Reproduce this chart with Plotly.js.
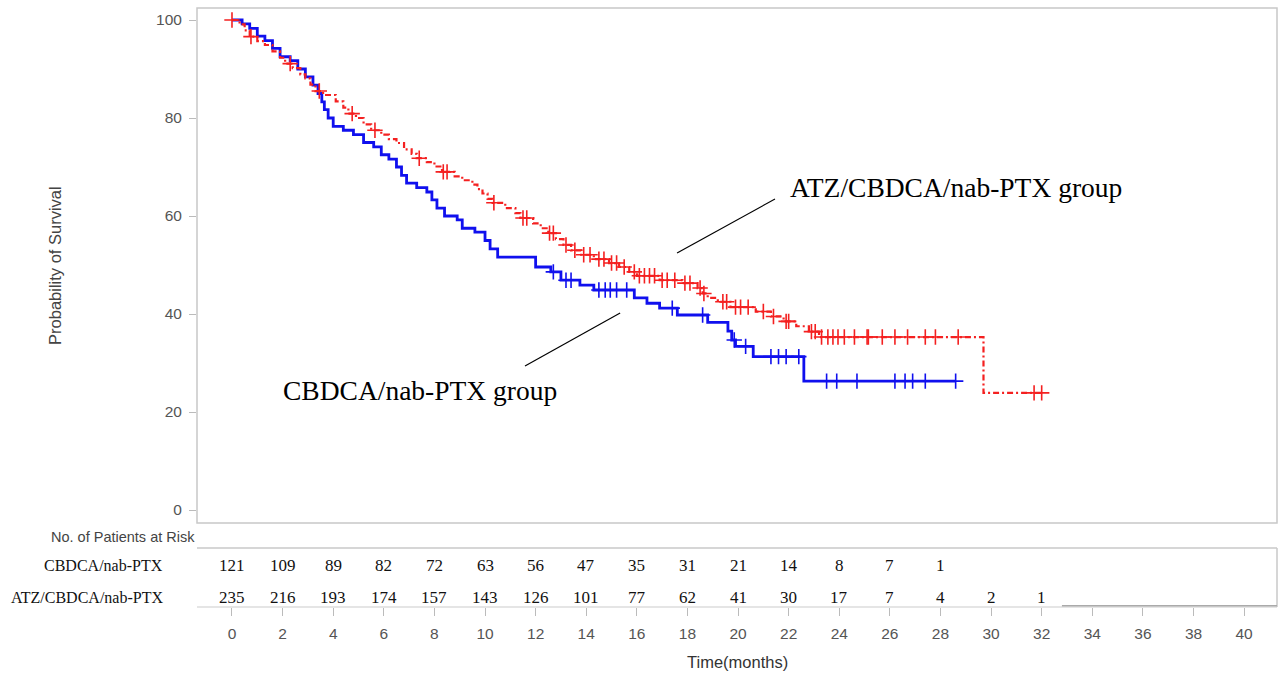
<!DOCTYPE html>
<html><head><meta charset="utf-8">
<script src="https://cdn.plot.ly/plotly-3.0.1.min.js"></script>
<style>html,body{margin:0;padding:0;background:#fff}#chart{width:1278px;height:675px}</style>
</head><body><div id="chart"></div>
<script>
// CBDCA/nab-PTX (blue) Kaplan-Meier steps
const blueTime = [0,0.4,0.7,1.0,1.3,1.6,1.9,2.3,2.6,2.9,3.2,3.4,3.55,3.65,3.8,4.0,4.4,4.8,5.2,5.6,5.9,6.2,6.5,6.7,6.9,7.3,7.7,7.9,8.1,8.4,8.9,9.1,9.6,10.0,10.2,10.5,12.0,12.6,13.0,13.75,14.3,15.9,16.4,16.9,17.6,18.8,19.6,19.75,19.9,20.6,22.6,28.6];
const blueSurv = [100,99.2,98.3,96.7,95.8,94.2,92.5,91.7,90.0,88.4,86.7,85.0,83.3,81.7,80.0,78.3,77.5,76.6,75.0,74.1,72.5,71.6,70.0,68.3,66.7,65.8,64.9,63.3,61.6,60.0,59.2,57.5,56.7,55.0,53.3,51.6,49.6,48.6,46.9,45.9,44.9,43.3,42.2,41.2,39.8,38.3,36.5,34.7,33.4,31.3,26.3,26.3];
const blueCensor = [12.7,13.2,13.4,14.5,14.75,14.95,15.2,15.6,17.4,18.6,19.85,20.3,21.3,21.6,21.9,22.4,23.5,23.9,24.7,26.2,26.6,26.9,27.4,28.6];

// ATZ/CBDCA/nab-PTX (red) Kaplan-Meier steps
const redTime = [0,0.3,0.5,0.7,1.0,1.3,1.6,1.9,2.1,2.4,2.7,2.9,3.1,3.3,3.6,4.1,4.4,4.6,4.9,5.2,5.5,5.9,6.2,6.5,6.8,7.1,7.3,7.7,8.0,8.3,8.8,9.1,9.5,9.7,9.9,10.1,10.3,10.8,11.2,11.4,11.9,12.2,12.5,12.8,13.1,13.4,13.8,14.3,14.9,15.3,15.7,16.0,16.9,17.8,18.4,18.6,18.8,19.2,19.7,20.7,21.3,21.8,22.3,22.8,23.2,29.7,32.05];
const redSurv = [100,99.1,97.9,96.6,95.7,94.9,93.6,92.3,91.1,90.2,88.9,88.1,86.8,85.5,84.7,83.4,82.1,80.9,80.0,78.7,77.5,76.6,75.7,74.9,73.6,72.7,71.8,71.0,70.1,69.0,68.1,67.3,66.4,65.5,64.6,63.5,62.7,61.6,60.6,59.6,58.5,57.5,56.5,55.3,54.1,53.0,52.1,51.2,50.4,49.6,48.6,47.8,46.9,46.3,45.3,44.2,43.3,42.5,41.4,40.5,39.5,38.5,37.5,36.4,35.3,23.9,23.9];
const redCensor = [0,0.75,2.3,3.45,4.75,5.65,7.4,8.35,8.5,10.35,11.5,11.65,12.55,12.7,13.2,13.55,13.9,14.15,14.5,14.7,15.0,15.2,15.5,15.9,16.1,16.3,16.5,16.7,17.0,17.2,17.5,17.9,18.1,18.5,18.65,19.4,19.55,19.9,20.1,20.4,21.0,21.4,21.9,22.0,22.9,23.05,23.3,23.55,23.75,23.95,24.2,24.6,25.1,25.15,25.7,26.2,26.7,27.4,27.8,28.7,31.7,32.0];

// Number at risk table
const riskTimesBlue = [0,2,4,6,8,10,12,14,16,18,20,22,24,26,28];
const riskBlue = [121,109,89,82,72,63,56,47,35,31,21,14,8,7,1];
const riskTimesRed = [0,2,4,6,8,10,12,14,16,18,20,22,24,26,28,30,32];
const riskRed = [235,216,193,174,157,143,126,101,77,62,41,30,17,7,4,2,1];
const rowLabels = ["CBDCA/nab-PTX","ATZ/CBDCA/nab-PTX"];
const xTickVals = [0,2,4,6,8,10,12,14,16,18,20,22,24,26,28,30,32,34,36,38,40];
const yTickVals = [0,20,40,60,80,100];

function survAt(times, surv, t){ let v = surv[0]; for (let i=0;i<times.length;i++){ if (times[i] <= t) v = surv[i]; } return v; }

const BLUE = '#1010ee', RED = '#f42020';
const sans = 'Liberation Sans, Arial, sans-serif';
const serif = 'Liberation Serif, Times New Roman, serif';

const traces = [
  {x: blueTime, y: blueSurv, type:'scatter', mode:'lines', line:{shape:'hv', color:BLUE, width:2.8}, xaxis:'x', yaxis:'y', hoverinfo:'skip'},
  {x: blueCensor, y: blueCensor.map(t=>survAt(blueTime, blueSurv, t)), type:'scatter', mode:'markers',
   marker:{symbol:'cross-thin', size:11, line:{color:BLUE, width:1.6}, color:BLUE}, xaxis:'x', yaxis:'y', hoverinfo:'skip'},
  {x: redTime, y: redSurv, type:'scatter', mode:'lines', line:{shape:'hv', color:RED, width:2.2, dash:'6px,3px,2px,3px'}, xaxis:'x', yaxis:'y', hoverinfo:'skip'},
  {x: redCensor, y: redCensor.map(t=>survAt(redTime, redSurv, t)), type:'scatter', mode:'markers',
   marker:{symbol:'cross-thin', size:11, line:{color:RED, width:1.6}, color:RED}, xaxis:'x', yaxis:'y', hoverinfo:'skip'}
];

const annotations = [];
riskTimesBlue.forEach((t,i)=>annotations.push({x:t, y:0.695, xref:'x', yref:'y2', text:String(riskBlue[i]), showarrow:false, font:{family:serif, size:17, color:'#111'}}));
riskTimesRed.forEach((t,i)=>annotations.push({x:t, y:0.153, xref:'x', yref:'y2', text:String(riskRed[i]), showarrow:false, font:{family:serif, size:17, color:'#111'}}));
annotations.push({x:-0.0296, y:0.695, xref:'paper', yref:'y2', xanchor:'right', text:rowLabels[0], showarrow:false, font:{family:serif, size:16, color:'#111'}});
annotations.push({x:-0.0296, y:0.153, xref:'paper', yref:'y2', xanchor:'right', text:rowLabels[1], showarrow:false, font:{family:serif, size:16, color:'#111'}});
annotations.push({x:-0.137, y:0.1169, xref:'paper', yref:'paper', xanchor:'left', yanchor:'middle', text:'No. of Patients at Risk', showarrow:false, font:{family:sans, size:14.5, color:'#444'}});
annotations.push({x:-0.1315, y:0.571, xref:'paper', yref:'paper', xanchor:'center', yanchor:'middle', textangle:-90, text:'Probability of Survival', showarrow:false, font:{family:sans, size:16.5, color:'#444'}});
annotations.push({x:28.6, y:65.9, xref:'x', yref:'y', text:'ATZ/CBDCA/nab-PTX group', showarrow:false, font:{family:serif, size:27.5, color:'#000'}});
annotations.push({x:7.43, y:24.3, xref:'x', yref:'y', text:'CBDCA/nab-PTX group', showarrow:false, font:{family:serif, size:27.5, color:'#000'}});
annotations.push({x:0.5, y:-0.0918, xref:'paper', yref:'paper', xanchor:'center', yanchor:'middle', text:'Time(months)', showarrow:false, font:{family:sans, size:16.5, color:'#333'}});

const boxColor = '#c8c8c8';
const shapes = [
  {type:'rect', xref:'x domain', yref:'y domain', x0:0, x1:1, y0:0, y1:1, line:{color:boxColor, width:1.5}},
  {type:'line', xref:'x domain', yref:'y2 domain', x0:0, x1:1, y0:1, y1:1, line:{color:boxColor, width:1.5}},
  {type:'line', xref:'x domain', yref:'y2 domain', x0:1, x1:1, y0:0, y1:1, line:{color:boxColor, width:1.5}},
  {type:'line', xref:'x domain', yref:'y2 domain', x0:0, x1:1, y0:0, y1:0, line:{color:'#dddddd', width:1.5}},
  {type:'line', xref:'x', yref:'y2 domain', x0:32.8, x1:41.3, y0:0.02, y1:0.02, line:{color:'#aaaaaa', width:1.5}},
  {type:'line', xref:'x', yref:'y', x0:17.59, y0:52.45, x1:21.46, y1:63.47, line:{color:'#000', width:1.2}},
  {type:'line', xref:'x', yref:'y', x0:11.58, y0:29.39, x1:15.34, y1:40.2, line:{color:'#000', width:1.2}}
];

const layout = {
  width:1278, height:675,
  margin:{l:197, r:1, t:8, b:68, pad:0},
  paper_bgcolor:'#fff', plot_bgcolor:'#fff',
  showlegend:false,
  xaxis:{range:[-1.383, 41.30], anchor:'y2', tickmode:'array', tickvals:xTickVals, ticktext:xTickVals.map(String),
    ticks:'outside', ticklen:8, tickcolor:'#bbbbbb', tickwidth:1, showgrid:false, zeroline:false, showline:false,
    ticklabelstandoff:4, tickfont:{family:sans, size:15.5, color:'#555'}},
  yaxis:{domain:[0.1402,1], range:[-2.65,102.45], tickmode:'array', tickvals:yTickVals, ticktext:yTickVals.map(String),
    ticks:'outside', ticklen:7, tickcolor:'#bbbbbb', showgrid:false, zeroline:false, showline:false,
    tickfont:{family:sans, size:15.5, color:'#555'}, ticklabelstandoff:4},
  yaxis2:{domain:[0,0.0985], range:[0,1], showticklabels:false, ticks:'', showgrid:false, zeroline:false, showline:false},
  annotations: annotations,
  shapes: shapes
};

Plotly.newPlot('chart', traces, layout, {staticPlot:true, displayModeBar:false});
</script>
</body></html>
